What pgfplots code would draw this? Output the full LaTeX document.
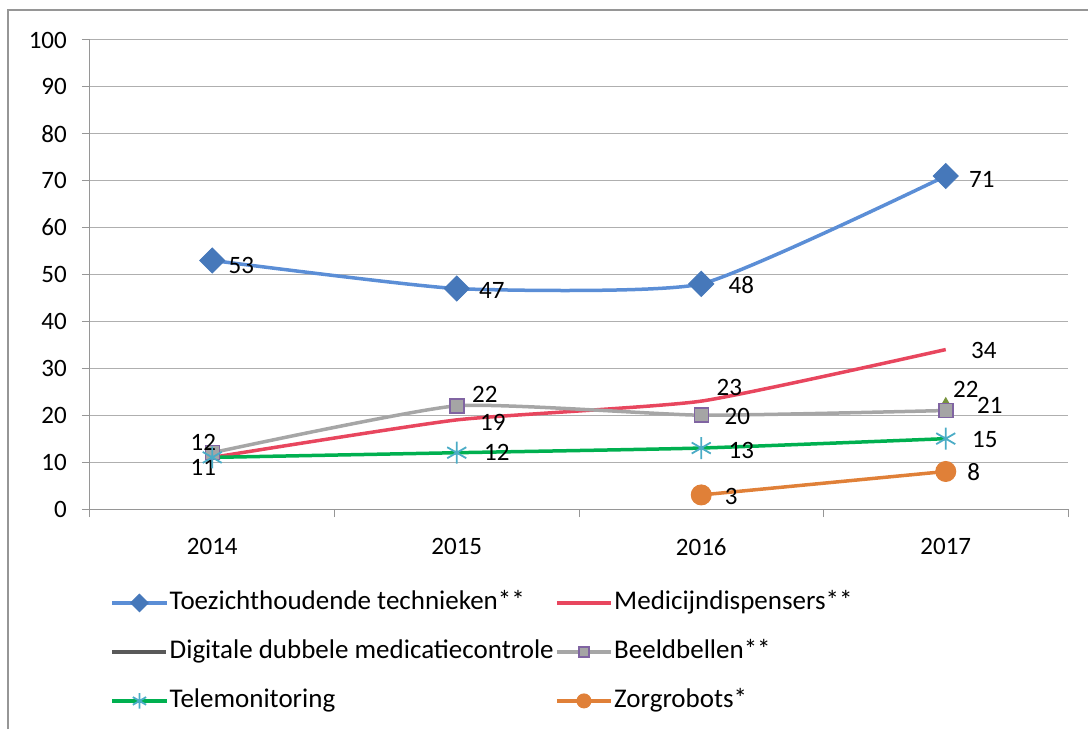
\documentclass[border=0pt]{standalone}
\usepackage{fontspec}
\setmainfont{Carlito}
\usepackage{pgfplots}
\usepackage{pgfplotstable}
\pgfplotsset{compat=1.18}

\definecolor{blueline}{RGB}{91,142,214}
\definecolor{bluemark}{RGB}{70,120,186}
\definecolor{redline}{RGB}{232,70,94}
\definecolor{grayline}{RGB}{166,166,166}
\definecolor{graymark}{RGB}{165,165,165}
\definecolor{purplemark}{RGB}{128,100,162}
\definecolor{greenline}{RGB}{0,176,80}
\definecolor{tealmark}{RGB}{75,172,198}
\definecolor{orangeline}{RGB}{224,128,56}
\definecolor{darkline}{RGB}{89,89,89}
\definecolor{olivemark}{RGB}{119,147,60}
\definecolor{axisgray}{RGB}{150,150,150}
\definecolor{gridgray}{RGB}{175,175,175}

\pgfplotstableread{
x y dx dy lbl
0 53 29 -5 53
1 47 35 -2 47
2 48 40 -1 48
3 71 36 -3 71
}\toez
\pgfplotstableread{
x y dx dy lbl
0 11 -9 -10 11
1 19 36 -2 19
2 23 28 14 23
3 34 38 -1 34
}\medic
\pgfplotstableread{
x y dx dy lbl
3 22 20 16 22
}\ddm
\pgfplotstableread{
x y dx dy lbl
0 12 -9 10 12
1 22 28 11 22
2 20 36 -1 20
3 21 44 5 21
}\beeld
\pgfplotstableread{
x y dx dy lbl
0 11 -9 -10 {}
1 12 40 0 12
2 13 40 -2 13
3 15 39 -1 15
}\tele
\pgfplotstableread{
x y dx dy lbl
2 3 30 -2 3
3 8 28 -1 8
}\zorg

\begin{document}
\begin{tikzpicture}
\useasboundingbox (0pt,0pt) rectangle (1088pt,729pt);
\draw[color=axisgray, line width=1.2pt] (8pt,0pt) -- (8pt,719pt) -- (1088pt,719pt);
\begin{axis}[
  at={(90pt,220pt)}, anchor=south west,
  scale only axis, width=978pt, height=469pt,
  xmin=-0.5, xmax=3.5, ymin=0, ymax=100,
  xtick={0,1,2,3}, xticklabels={2014,2015,2016,2017},
  minor xtick={-0.5,0.5,1.5,2.5,3.5},
  ytick={0,10,...,100},
  axis x line*=bottom, axis y line*=left,
  axis line style={draw=axisgray, line width=1pt, -},
  ymajorgrids, major grid style={draw=gridgray, line width=1pt},
  tick align=outside,
  major tick length=8pt, minor tick length=8pt,
  major x tick style={draw=none},
  minor x tick style={draw=axisgray, line width=1pt},
  ytick style={draw=axisgray, line width=1pt},
  /pgf/number format/assume math mode=true,
  ticklabel style={font=\fontsize{25}{29}\selectfont, text=black},
  yticklabel style={inner sep=0pt, xshift=-15pt},
  xticklabel style={inner sep=0pt, yshift=-21pt},
  visualization depends on={\thisrow{dx}\as\dx},
  visualization depends on={\thisrow{dy}\as\dy},
  point meta=explicit symbolic,
  nodes near coords,
  every node near coord/.append style={anchor=center, xshift=\dx pt, yshift=\dy pt, text=black, font=\fontsize{25}{29}\selectfont, inner sep=0pt},
  legend columns=2,
  legend cell align=left,
  legend style={at={(0.021,-0.17)}, anchor=north west, draw=none, fill=none,
    font=\fontsize{27}{31}\selectfont, column sep=0pt, row sep=21pt, inner sep=0pt,
    nodes={inner sep=1.5pt, text height=19pt, text depth=6pt, anchor=west}},
  legend image code/.code={\draw[mark repeat=2, mark phase=2, every mark/.append style={scale=0.7}] plot coordinates {(0pt,0pt) (27pt,0pt) (54pt,0pt)};},
]
\addplot[blueline, line width=3.5pt, smooth, tension=0.3, mark=square*, mark size=8.8pt,
  mark options={rotate=45, fill=bluemark, draw=bluemark, line width=1pt}] table[meta=lbl] {\toez};
\addlegendentry{Toezichthoudende technieken**}
\addplot[redline, line width=3.5pt, smooth, tension=0.3, mark=none] table[meta=lbl] {\medic};
\addlegendentry{Medicijndispensers**}
\addplot[darkline, line width=3.5pt, mark=triangle*, mark size=8pt,
  mark options={fill=olivemark, draw=olivemark, line width=1pt},
  legend image code/.code={\draw (0pt,0pt) -- (54pt,0pt);}] table[meta=lbl] {\ddm};
\addlegendentry{Digitale dubbele medicatiecontrole}
\addplot[grayline, line width=3.5pt, smooth, tension=0.3, mark=square*, mark size=7pt,
  mark options={fill=graymark, draw=purplemark, line width=1.5pt}] table[meta=lbl] {\beeld};
\addlegendentry{Beeldbellen**}
\addplot[greenline, line width=3.5pt, smooth, tension=0.3, mark=asterisk, mark size=11pt,
  mark options={draw=tealmark, line width=1.8pt}] table[meta=lbl] {\tele};
\addlegendentry{Telemonitoring}
\addplot[orangeline, line width=3.5pt, smooth, tension=0.3, mark=*, mark size=10pt,
  mark options={fill=orangeline, draw=orangeline, line width=1pt}] table[meta=lbl] {\zorg};
\addlegendentry{Zorgrobots*}
\end{axis}
\end{tikzpicture}
\end{document}
